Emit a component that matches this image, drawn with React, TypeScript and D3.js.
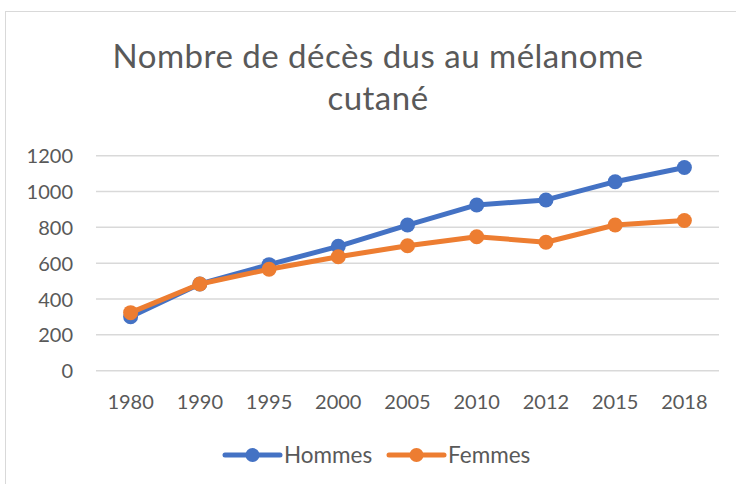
import * as d3 from "d3";

const years = ["1980", "1990", "1995", "2000", "2005", "2010", "2012", "2015", "2018"];
const hommes = [301, 484, 592, 694, 813, 925, 953, 1055, 1134];
const femmes = [324, 484, 566, 636, 697, 748, 717, 813, 838];
const yTicks = [0, 200, 400, 600, 800, 1000, 1200];
const titleLines = ["Nombre de décès dus au mélanome", "cutané"];

const W = 736;
const H = 484;
const FONT = "Lato, 'Open Sans', sans-serif";
const TEXT = "#595959";

const series = [
  { name: "Hommes", values: hommes, color: "#4472c4" },
  { name: "Femmes", values: femmes, color: "#ed7d31" },
];

export default function App() {
  const x = d3.scaleBand().domain(years).range([96, 719]);
  const y = d3.scaleLinear().domain([0, 1200]).range([370.7, 155.7]);
  const line = d3
    .line<number>()
    .x((_, i) => (x(years[i]) || 0) + x.bandwidth() / 2)
    .y((d) => y(d));

  const legendX = [225, 389];

  return (
    <div style={{ position: "absolute", left: 0, top: 0 }}>
      <svg width={W} height={H} style={{ display: "block", background: "#fff" }}>
        <rect x={5.5} y={11.5} width={W + 10} height={H + 10} fill="#fff" stroke="#d9d9d9" />
        {titleLines.map((t, i) => (
          <text
            key={i}
            x={378}
            y={68 + i * 42}
            textAnchor="middle"
            fontFamily={FONT}
            fontSize={33}
            letterSpacing={0.5}
            fill={TEXT}
          >
            {t}
          </text>
        ))}
        {yTicks.map((t) => (
          <g key={t}>
            <line x1={96} x2={719} y1={y(t)} y2={y(t)} stroke="#d9d9d9" strokeWidth={1.5} />
            <text
              x={73}
              y={y(t) + 7.5}
              textAnchor="end"
              fontFamily={FONT}
              fontSize={20}
              fill={TEXT}
            >
              {t}
            </text>
          </g>
        ))}
        {years.map((yr) => (
          <text
            key={yr}
            x={(x(yr) || 0) + x.bandwidth() / 2}
            y={409}
            textAnchor="middle"
            fontFamily={FONT}
            fontSize={20}
            fill={TEXT}
          >
            {yr}
          </text>
        ))}
        {series.map((s) => (
          <g key={s.name}>
            <path
              d={line(s.values) || ""}
              fill="none"
              stroke={s.color}
              strokeWidth={5}
              strokeLinejoin="round"
              strokeLinecap="round"
            />
            {s.values.map((v, i) => (
              <circle
                key={i}
                cx={(x(years[i]) || 0) + x.bandwidth() / 2}
                cy={y(v)}
                r={7.5}
                fill={s.color}
              />
            ))}
          </g>
        ))}
        {series.map((s, i) => (
          <g key={s.name} transform={`translate(${legendX[i]},455)`}>
            <line x1={0} x2={55} y1={0} y2={0} stroke={s.color} strokeWidth={5} strokeLinecap="round" />
            <circle cx={27.5} cy={0} r={7} fill={s.color} />
            <text x={59} y={8} fontFamily={FONT} fontSize={22.5} fill={TEXT}>
              {s.name}
            </text>
          </g>
        ))}
      </svg>
    </div>
  );
}
